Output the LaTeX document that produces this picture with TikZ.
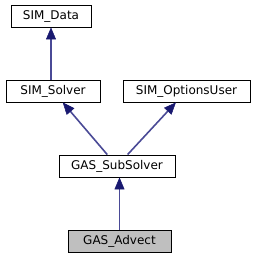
\documentclass[tikz,border=0pt]{standalone}
\usepackage{fontspec}
\setmainfont{DejaVu Sans}
\usetikzlibrary{arrows.meta}
\definecolor{edgeblue}{HTML}{191970}
\definecolor{edgeline}{HTML}{4A4A96}
\definecolor{leafgray}{HTML}{BFBFBF}
\tikzset{
  cls/.style={draw=black, line width=0.9bp, fill=white, inner sep=0pt, minimum height=22bp, font=\fontsize{12bp}{13bp}\selectfont},
  leaf/.style={cls, fill=leafgray},
  inh/.style={draw=edgeline, line width=1.6bp, -{Triangle[length=12bp,width=10bp,color=edgeblue,fill=edgeblue,line width=0.5bp]}}
}
\begin{document}
\begin{tikzpicture}[x=1bp,y=-1bp]
\useasboundingbox (0,0) rectangle (261,261);
\node[cls, minimum width=80bp] (data) at (51,16) {SIM\_Data};
\node[cls, minimum width=94bp] (solver) at (53,91) {SIM\_Solver};
\node[cls, minimum width=127bp] (opts) at (186.5,91) {SIM\_OptionsUser};
\node[cls, minimum width=116bp] (sub) at (117,166) {GAS\_SubSolver};
\node[leaf, minimum width=103bp] (adv) at (119.5,241) {GAS\_Advect};
\draw[inh] (solver.north -| data) -- (data);
\draw[inh] (sub) -- (solver);
\draw[inh] (sub) -- (opts);
\draw[inh] (adv) -- (adv |- sub.south);
\end{tikzpicture}
\end{document}
